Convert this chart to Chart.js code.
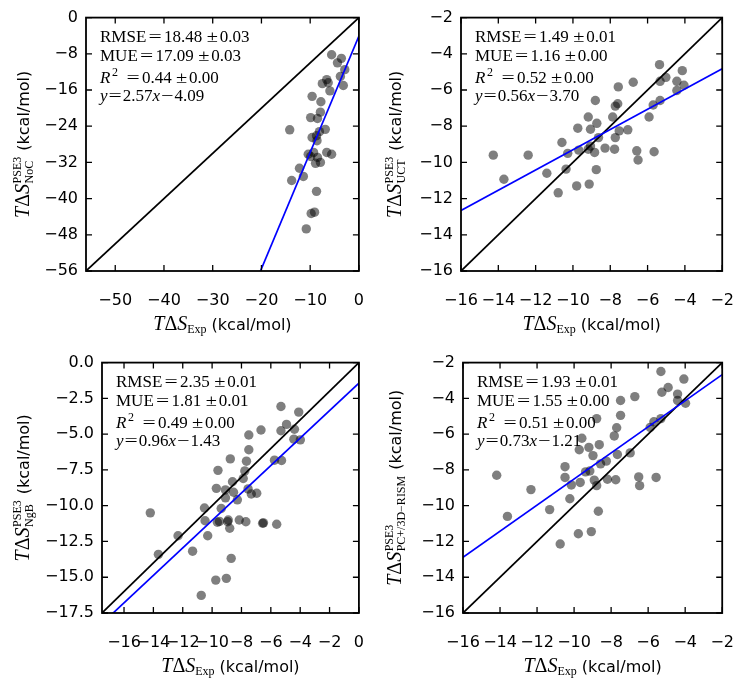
<!DOCTYPE html>
<html>
<head>
<meta charset="utf-8">
<script src="https://cdn.jsdelivr.net/npm/chart.js@4.4.0/dist/chart.umd.min.js"></script>
<style>
  body { margin: 0; background: #fff; }
  #fig { position: relative; width: 754px; height: 687px; overflow: hidden; }
  canvas { position: absolute; }
</style>
</head>
<body>
<div id="fig">
  <canvas id="noc"></canvas>
  <canvas id="uct"></canvas>
  <canvas id="ngb"></canvas>
  <canvas id="pc"></canvas>
</div>
<script>
// ---- data ----
var nocX = [-14.2,-12.2,-13.8,-11.4,-8.7,-9.8,-9.1,-10.8,-5.6,-6.6,-7.5,-5.95,-9.6,-7.8,-7.9,-9.9,-8.5,-6.9,-8.1,-8.7,-9.6,-8.6,-10.4,-9.3,-8.5,-8.9,-6.6,-5.6,-9.9,-7.9,-6.3,-3.6,-2.9,-3.8,-3.2,-4.4];
var nocY = [-24.8,-33.3,-36.0,-35.1,-38.4,-43.3,-43.0,-46.7,-8.2,-13.7,-14.6,-16.2,-17.4,-18.6,-20.9,-22.1,-22.3,-24.7,-25.2,-26.1,-26.5,-27.2,-30.2,-29.8,-30.9,-32.2,-29.8,-30.2,-30.7,-32.0,-14.4,-9.0,-11.5,-13.0,-15.0,-10.0];
var uctX = [-14.27,-13.7,-12.4,-11.4,-10.79,-10.37,-9.8,-9.13,-8.75,-10.59,-10.28,-9.74,-9.69,-9.18,-9.18,-9.06,-8.72,-8.8,-8.84,-8.63,-8.28,-7.87,-7.73,-7.57,-7.6,-7.77,-7.73,-7.52,-7.06,-6.77,-6.58,-6.51,-5.92,-5.7,-5.65,-5.36,-5.33,-5.33,-5.02,-4.43,-4.43,-4.14,-4.05,-9.06];
var uctY = [-9.6,-10.93,-9.6,-10.6,-11.68,-10.37,-11.3,-11.2,-10.4,-8.9,-9.5,-8.11,-9.32,-7.49,-9.27,-8.17,-7.84,-6.58,-9.45,-8.63,-9.21,-7.49,-6.89,-5.83,-6.76,-9.27,-8.63,-8.26,-8.2,-5.57,-9.36,-9.87,-7.49,-6.83,-9.41,-4.6,-6.58,-5.52,-5.3,-5.52,-6.03,-4.93,-5.74,-9.1];
var ngbX = [-14.21,-13.66,-12.32,-11.33,-10.74,-10.52,-10.48,-10.3,-9.75,-9.71,-9.64,-9.6,-9.38,-9.09,-9.09,-9.03,-8.94,-8.8,-8.76,-8.7,-8.61,-8.54,-8.28,-8.15,-7.88,-7.77,-7.7,-7.66,-7.55,-7.5,-7.5,-7.33,-6.96,-6.67,-6.56,-5.6,-5.75,-5.27,-5.31,-5.31,-4.93,-4.39,-4.43,-4.1,-3.99,-9.5,-8.9,-6.5];
var ngbY = [-10.5,-13.4,-12.1,-13.18,-16.27,-10.16,-11.05,-12.1,-15.2,-8.79,-11.16,-7.53,-10.2,-8.9,-9.45,-15.08,-11.12,-11.58,-6.73,-13.68,-8.33,-9.06,-9.59,-11.0,-8.1,-7.57,-11.12,-6.89,-8.83,-6.09,-5.06,-9.18,-9.13,-4.71,-11.23,-11.3,-6.82,-6.84,-3.07,-4.76,-4.32,-4.66,-5.35,-3.46,-5.4,-11.1,-11.0,-11.2];
var pcX = [-14.18,-13.6,-12.33,-11.32,-10.75,-10.49,-10.49,-10.23,-10.15,-9.77,-9.72,-9.67,-9.58,-9.38,-9.2,-9.15,-9.07,-8.98,-8.91,-8.78,-8.78,-8.69,-8.64,-8.57,-8.26,-8.2,-7.83,-7.75,-7.7,-7.66,-7.49,-7.49,-6.97,-6.72,-6.51,-6.46,-5.89,-5.69,-5.57,-5.31,-5.26,-5.31,-4.92,-4.41,-4.41,-4.07,-3.98];
var pcY = [-8.3,-10.6,-9.1,-10.22,-12.14,-7.82,-8.42,-9.61,-8.84,-11.57,-6.87,-8.7,-6.23,-8.11,-6.74,-8.06,-11.45,-7.2,-8.57,-5.13,-8.88,-10.31,-6.59,-7.66,-7.51,-8.52,-6.1,-8.55,-5.64,-7.14,-4.12,-4.95,-7.05,-3.9,-8.39,-8.88,-5.62,-5.31,-8.42,-2.5,-3.66,-5.13,-3.39,-3.76,-4.12,-2.92,-4.27];

// stats: RMSE, err, MUE, err, R2, err ; fit: slope, intercept
var nocStats = ['18.48','0.03','17.09','0.03','0.44','0.00'];
var uctStats = ['1.49','0.01','1.16','0.00','0.52','0.00'];
var ngbStats = ['2.35','0.01','1.81','0.01','0.49','0.00'];
var pcStats  = ['1.93','0.01','1.55','0.00','0.51','0.00'];
var nocFit = [2.57, -4.09];
var uctFit = [0.56, -3.70];
var ngbFit = [0.96, -1.43];
var pcFit  = [0.73, -1.21];

// axis ranges and tick labels
var nocRange = [-56, 0], uctRange = [-16, -2], ngbRange = [-17.5, 0], pcRange = [-16, -2];
var nocXTicks = [-50,-40,-30,-20,-10,0];
var nocYTicks = [0,-8,-16,-24,-32,-40,-48,-56];
var uctTicks = [-16,-14,-12,-10,-8,-6,-4,-2];
var ngbXTicks = [-16,-14,-12,-10,-8,-6,-4,-2,0];
var ngbYTicks = [0,-2.5,-5,-7.5,-10,-12.5,-15,-17.5];

var SERIF = '"Liberation Serif", "Times New Roman", serif';
var SANS = '"DejaVu Sans", sans-serif';

function fmt(v, dec) {
  return (dec ? v.toFixed(dec) : String(v)).replace('-', '\u2212');
}

// draws a list of text runs left to right, returns width
function runs(ctx, x, y, list, draw) {
  var cx = x;
  list.forEach(function(r) {
    if (r.t === undefined && r.stack === undefined) { cx += r.gap; return; }
    var sz = r.sz || 17;
    var f = r.sans ? sz + 'px ' + SANS : (r.it ? 'italic ' : '') + sz + 'px ' + SERIF;
    ctx.font = f;
    if (r.stack) {
      var w1 = ctx.measureText(r.stack[0]).width, w2 = ctx.measureText(r.stack[1]).width;
      if (draw) {
        ctx.fillText(r.stack[0], cx, y - 7.5);
        ctx.fillText(r.stack[1], cx, y + 4);
      }
      cx += Math.max(w1, w2);
      return;
    }
    var sx = r.sx || 1;
    var w = ctx.measureText(r.t).width * sx;
    if (draw) {
      ctx.save();
      ctx.translate(cx, y + (r.dy || 0));
      ctx.scale(sx, 1);
      ctx.fillText(r.t, 0, 0);
      ctx.restore();
    }
    cx += w;
  });
  return cx - x;
}

function statLines(st, fit) {
  var sl = fit[0].toFixed(2);
  var ic = Math.abs(fit[1]).toFixed(2);
  var sign = fit[1] < 0 ? '\u2212' : '+';
  return [
    [{t:'RMSE'},{gap:2.3},{t:'=',sx:1.38},{gap:2.3},{t:st[0]},{gap:4.3},{t:'\u00b1',sx:1.2},{gap:1.8},{t:st[1]}],
    [{t:'MUE'},{gap:2.3},{t:'=',sx:1.38},{gap:2.3},{t:st[2]},{gap:4.3},{t:'\u00b1',sx:1.2},{gap:1.8},{t:st[3]}],
    [{t:'R',it:true},{gap:1.5},{t:'2',sz:12,dy:-6.5},{gap:8.5},{t:'=',sx:1.38},{gap:2.3},{t:st[4]},{gap:4.3},{t:'\u00b1',sx:1.2},{gap:1.8},{t:st[5]}],
    [{t:'y',it:true},{gap:1},{t:'=',sx:1.38},{gap:1},{t:sl},{t:'x',it:true},{gap:1},{t:sign,sx:1.3},{gap:1},{t:ic}]
  ];
}

function figPlugin(p) {
  return {
    id: 'fig_' + p.id,
    afterDatasetsDraw: function(chart) {
      var ctx = chart.ctx, a = chart.chartArea, xs = chart.scales.x, ys = chart.scales.y;
      ctx.save();
      ctx.strokeStyle = '#000';
      ctx.fillStyle = '#000';
      // inward ticks on all four sides
      ctx.lineWidth = 1.3;
      ctx.beginPath();
      xs.ticks.forEach(function(t) {
        var px = xs.getPixelForValue(t.value);
        ctx.moveTo(px, a.bottom); ctx.lineTo(px, a.bottom - 6);
        ctx.moveTo(px, a.top); ctx.lineTo(px, a.top + 6);
      });
      ys.ticks.forEach(function(t) {
        var py = ys.getPixelForValue(t.value);
        ctx.moveTo(a.left, py); ctx.lineTo(a.left + 6, py);
        ctx.moveTo(a.right, py); ctx.lineTo(a.right - 6, py);
      });
      ctx.stroke();
      ctx.lineWidth = 1.8;
      ctx.strokeRect(a.left, a.top, a.right - a.left, a.bottom - a.top);

      // statistics box
      ctx.textBaseline = 'alphabetic';
      ctx.textAlign = 'left';
      var lines = statLines(p.stats, p.fit);
      var offs = [24.7, 43.5, 65, 83.6];
      lines.forEach(function(l, i) { runs(ctx, a.left + 14, a.top + offs[i], l, true); });

      // x axis title
      var xt = [{t:'T',it:true,sz:20},{t:'\u0394',sz:20},{t:'S',it:true,sz:20},{t:'Exp',sz:12,dy:3.5},{gap:5},{t:'(kcal/mol)',sans:true,sz:16}];
      var w = runs(ctx, 0, 0, xt, false);
      runs(ctx, (a.left + a.right) / 2 - w / 2, a.bottom + 58.6, xt, true);

      // y axis title (rotated)
      var yt = [{t:'T',it:true,sz:20},{t:'\u0394',sz:20},{t:'S',it:true,sz:20},{gap:0.5},{stack:['PSE3', p.sub],sz:12},{gap:6},{t:'(kcal/mol)',sans:true,sz:16}];
      var wy = runs(ctx, 0, 0, yt, false);
      ctx.translate(p.ylabX - p.box.x, (a.top + a.bottom) / 2);
      ctx.rotate(-Math.PI / 2);
      runs(ctx, -wy / 2, 5.5, yt, true);
      ctx.restore();
    }
  };
}

function panel(p) {
  var cv = document.getElementById(p.id);
  cv.width = p.box.w; cv.height = p.box.h;
  cv.style.left = p.box.x + 'px'; cv.style.top = p.box.y + 'px';
  var lo = p.range[0], hi = p.range[1];
  var pts = p.xs.map(function(x, i) { return {x: x, y: p.ys[i]}; });
  var tickFont = {family: 'DejaVu Sans', size: 16};
  new Chart(cv, {
    type: 'scatter',
    data: {
      datasets: [
        { data: [{x: lo, y: p.fit[0] * lo + p.fit[1]}, {x: hi, y: p.fit[0] * hi + p.fit[1]}],
          showLine: true, borderColor: '#0000ff', borderWidth: 1.7, pointRadius: 0 },
        { data: [{x: lo, y: lo}, {x: hi, y: hi}],
          showLine: true, borderColor: '#000000', borderWidth: 1.7, pointRadius: 0 },
        { data: pts, backgroundColor: 'rgba(0,0,0,0.5)', borderWidth: 0, pointRadius: 4.7 }
      ]
    },
    options: {
      responsive: false,
      animation: false,
      devicePixelRatio: 1,
      events: [],
      layout: { padding: { top: p.frame.t - p.box.y, right: p.box.x + p.box.w - p.frame.r, left: 0, bottom: 0 } },
      plugins: { legend: { display: false }, tooltip: { enabled: false } },
      scales: {
        x: {
          type: 'linear', position: 'bottom', min: lo, max: hi,
          grid: { display: false, drawTicks: false }, border: { display: false },
          afterBuildTicks: function(s) { s.ticks = p.xTicks.map(function(v) { return {value: v}; }); },
          afterFit: function(s) { s.height = p.box.y + p.box.h - p.frame.b; },
          ticks: { autoSkip: false, maxRotation: 0, padding: 20, color: '#000', font: tickFont,
                   callback: function(v) { return fmt(v, p.xDec); } }
        },
        y: {
          type: 'linear', position: 'left', min: lo, max: hi,
          grid: { display: false, drawTicks: false }, border: { display: false },
          afterBuildTicks: function(s) { s.ticks = p.yTicks.map(function(v) { return {value: v}; }); },
          afterFit: function(s) { s.width = p.frame.l - p.box.x; },
          ticks: { autoSkip: false, padding: 8, color: '#000', font: tickFont,
                   callback: function(v) { return fmt(v, p.yDec); } }
        }
      }
    },
    plugins: [figPlugin(p)]
  });
}

panel({ id: 'noc', box: {x: 0, y: 0, w: 384, h: 345}, frame: {l: 86, t: 16, r: 368, b: 271},
        xs: nocX, ys: nocY, range: nocRange, xTicks: nocXTicks, yTicks: nocYTicks, xDec: 0, yDec: 0,
        stats: nocStats, fit: nocFit, sub: 'NoC', ylabX: 23 });
panel({ id: 'uct', box: {x: 384, y: 0, w: 370, h: 345}, frame: {l: 461, t: 16, r: 736, b: 271},
        xs: uctX, ys: uctY, range: uctRange, xTicks: uctTicks, yTicks: uctTicks, xDec: 0, yDec: 0,
        stats: uctStats, fit: uctFit, sub: 'UCT', ylabX: 395 });
panel({ id: 'ngb', box: {x: 0, y: 345, w: 384, h: 342}, frame: {l: 102, t: 358, r: 368, b: 613},
        xs: ngbX, ys: ngbY, range: ngbRange, xTicks: ngbXTicks, yTicks: ngbYTicks, xDec: 0, yDec: 1,
        stats: ngbStats, fit: ngbFit, sub: 'NgB', ylabX: 23 });
panel({ id: 'pc', box: {x: 384, y: 345, w: 370, h: 342}, frame: {l: 463, t: 358, r: 735, b: 613},
        xs: pcX, ys: pcY, range: pcRange, xTicks: uctTicks, yTicks: uctTicks, xDec: 0, yDec: 0,
        stats: pcStats, fit: pcFit, sub: 'PC+/3D\u2212RISM', ylabX: 395 });
</script>
</body>
</html>
